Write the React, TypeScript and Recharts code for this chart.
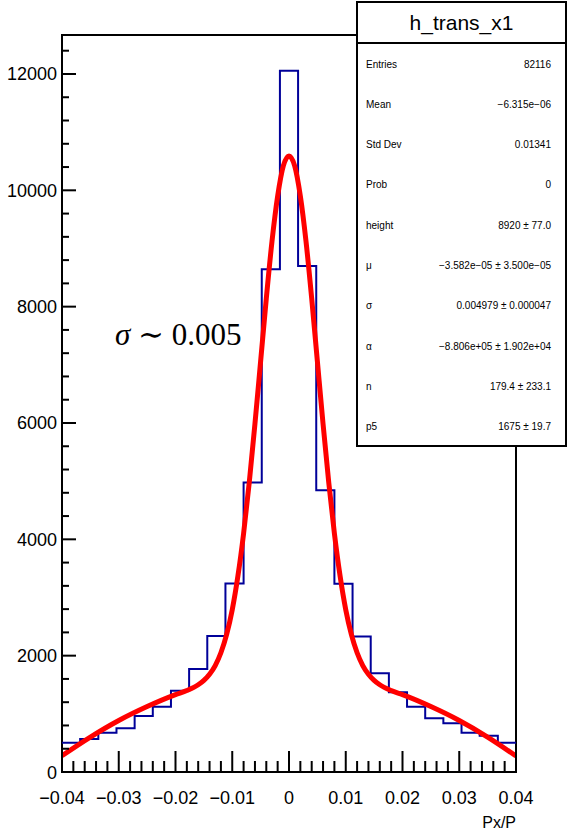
import { ComposedChart, Line, XAxis, YAxis, ReferenceArea } from 'recharts'

// histogram: 25 bins between -0.04 and 0.04
const binEdges = [
  -0.04, -0.0368, -0.0336, -0.0304, -0.0272, -0.024, -0.0208, -0.0176, -0.0144, -0.0112,
  -0.008, -0.0048, -0.0016, 0.0016, 0.0048, 0.008, 0.0112, 0.0144, 0.0176, 0.0208,
  0.024, 0.0272, 0.0304, 0.0336, 0.0368, 0.04,
]
const binCounts = [
  504, 567, 676, 751, 963, 1123, 1398, 1771, 2338, 3240, 4975, 8645, 12055,
  8700, 4845, 3235, 2330, 1697, 1370, 1123, 923, 837, 676, 624, 504,
]

// fitted curve
const fitX = [
  -0.04, -0.035, -0.03, -0.025, -0.02, -0.018, -0.016, -0.015, -0.014, -0.013, -0.012,
  -0.011, -0.01, -0.009, -0.008, -0.007, -0.006, -0.005, -0.004, -0.003, -0.002, -0.001,
  0, 0.001, 0.002, 0.003, 0.004, 0.005, 0.006, 0.007, 0.008, 0.009, 0.01, 0.011, 0.012,
  0.013, 0.014, 0.015, 0.016, 0.018, 0.02, 0.025, 0.03, 0.035, 0.04,
]
const fitY = [
  280, 600, 885, 1125, 1330, 1400, 1500, 1575, 1680, 1830, 2050,
  2360, 2790, 3370, 4100, 4980, 5985, 7060, 8140, 9120, 9900, 10420,
  10590, 10420, 9900, 9120, 8140, 7060, 5985, 4980, 4100, 3370, 2790, 2360, 2050,
  1830, 1680, 1575, 1500, 1400, 1330, 1125, 885, 600, 275,
]

const xMajorLabels = ['\u22120.04', '\u22120.03', '\u22120.02', '\u22120.01', '0', '0.01', '0.02', '0.03', '0.04']
const xTicks = Array.from({ length: 41 }, (_, i) => +(-0.04 + i * 0.002).toFixed(3))
const yTicks = Array.from({ length: 32 }, (_, i) => i * 400)

const statLabels = ['Entries', 'Mean', 'Std Dev', 'Prob', 'height', '\u03bc', '\u03c3', '\u03b1', 'n', 'p5']
const statValues = [
  '82116',
  '\u22126.315e\u221206',
  '0.01341',
  '0',
  '8920 \u00b1 77.0',
  '\u22123.582e\u221205 \u00b1 3.500e\u221205',
  '0.004979 \u00b1 0.000047',
  '\u22128.806e+05 \u00b1 1.902e+04',
  '179.4 \u00b1 233.1',
  '1675 \u00b1 19.7',
]

const histData = binEdges.map((x, i) => ({ x, count: binCounts[Math.min(i, binCounts.length - 1)] }))
const fitData = fitX.map((x, i) => ({ x, fit: fitY[i] }))

const FONT = '"Liberation Sans", Arial, Helvetica, sans-serif'

const XTick = (props: any) => {
  const { x, y, payload } = props
  const k = payload.value * 100
  const major = Math.abs(k - Math.round(k)) < 1e-6
  return (
    <g>
      <line x1={x} x2={x} y1={y} y2={y - (major ? 21 : 11)} stroke="#000" strokeWidth={2} />
      {major && (
        <text x={x} y={y + 32} textAnchor="middle" fontSize={18} fontFamily={FONT} fill="#000">
          {xMajorLabels[Math.round(k) + 4]}
        </text>
      )}
    </g>
  )
}

const YTick = (props: any) => {
  const { x, y, payload } = props
  const major = payload.value % 2000 === 0
  return (
    <g>
      <line x1={x} x2={x + (major ? 14 : 7)} y1={y} y2={y} stroke="#000" strokeWidth={2} />
      {major && (
        <text x={x - 5} y={y + 6.5} textAnchor="end" fontSize={18} fontFamily={FONT} fill="#000">
          {payload.value}
        </text>
      )}
    </g>
  )
}

export default function App() {
  return (
    <div style={{ position: 'absolute', left: 0, top: 0, width: 568, height: 830, background: '#fff' }}>
      <ComposedChart width={568} height={830} margin={{ top: 35, right: 52, left: 0, bottom: 0 }}>
        <XAxis
          dataKey="x"
          type="number"
          domain={[-0.04, 0.04]}
          ticks={xTicks}
          interval={0}
          tick={<XTick />}
          tickSize={0}
          tickMargin={0}
          axisLine={false}
          tickLine={false}
          height={58}
          allowDataOverflow
        />
        <YAxis
          type="number"
          domain={[0, 12670]}
          ticks={yTicks}
          interval={0}
          tick={<YTick />}
          tickSize={0}
          tickMargin={0}
          axisLine={false}
          tickLine={false}
          width={62}
          allowDataOverflow
        />
        <ReferenceArea
          x1={-0.04}
          x2={0.04}
          y1={0}
          y2={12670}
          fill="none"
          stroke="#000"
          strokeWidth={2}
          fillOpacity={0}
          ifOverflow="visible"
        />
        <Line
          data={histData}
          dataKey="count"
          type="stepAfter"
          stroke="#000099"
          strokeWidth={2}
          dot={false}
          isAnimationActive={false}
        />
        <Line
          data={fitData}
          dataKey="fit"
          type="monotone"
          stroke="#ff0000"
          strokeWidth={5}
          dot={false}
          isAnimationActive={false}
        />
      </ComposedChart>

      <svg
        width={568}
        height={830}
        style={{ position: 'absolute', left: 0, top: 0, pointerEvents: 'none' }}
      >
        <text x={115} y={345} fontSize={31} fontFamily='"Liberation Serif", "DejaVu Serif", serif' fill="#000">
          <tspan fontStyle="italic">{'\u03c3'}</tspan>
          {' \u223c 0.005'}
        </text>
        <text x={516} y={828} textAnchor="end" fontSize={16} fontFamily={FONT} fill="#000">
          Px/P
        </text>

        <rect x={357} y={2} width={209} height={444} fill="#fff" stroke="#000" strokeWidth={2} />
        <line x1={357} x2={566} y1={43} y2={43} stroke="#000" strokeWidth={2} />
        <text x={461.5} y={30} textAnchor="middle" fontSize={21} fontFamily={FONT} fill="#000">
          h_trans_x1
        </text>
        {statLabels.map((label, i) => (
          <g key={label}>
            <text x={366} y={67.5 + i * 40.3} fontSize={10} fontFamily={FONT} fill="#000">
              {label}
            </text>
            <text x={551} y={67.5 + i * 40.3} textAnchor="end" fontSize={10} fontFamily={FONT} fill="#000">
              {statValues[i]}
            </text>
          </g>
        ))}
      </svg>
    </div>
  )
}
